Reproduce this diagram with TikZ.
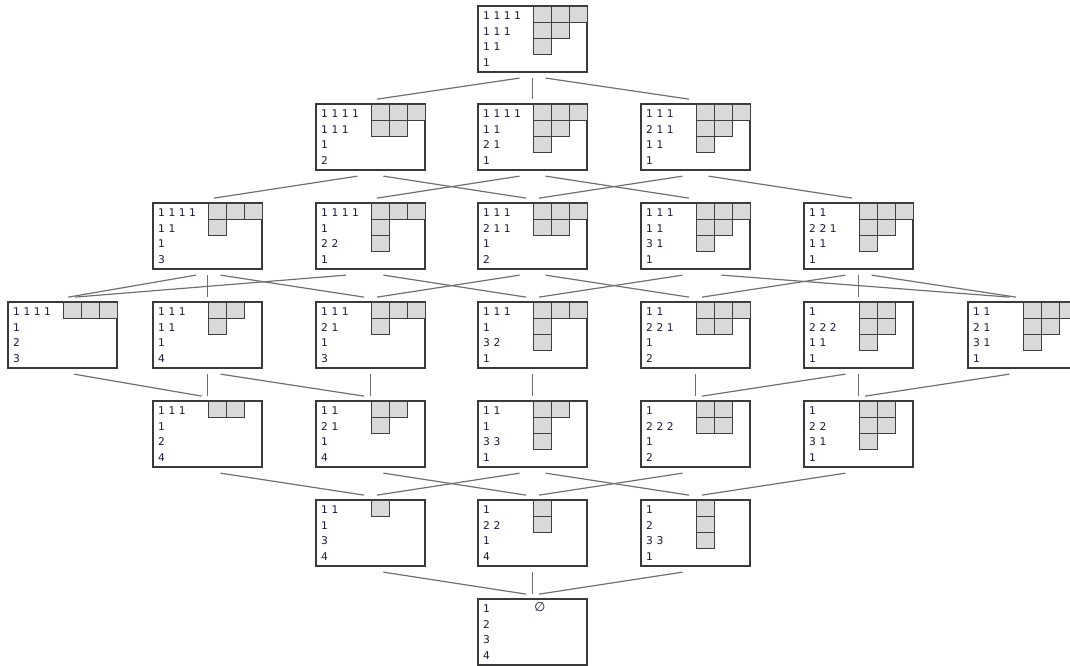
\documentclass[tikz,border=0pt]{standalone}
\usepackage{fontspec}
\setmainfont{DejaVu Sans}
\usetikzlibrary{calc}
\definecolor{inkcol}{HTML}{1A1A38}
\definecolor{boxcol}{HTML}{3A3A3A}
\definecolor{cellcol}{HTML}{D9D9D9}
\definecolor{linkcol}{HTML}{707070}
\begin{document}
\begin{tikzpicture}
			[
				x={(0.75pt, 0pt)},
				y={(0pt, -0.75pt)},
				state/.style={draw=boxcol, line width=0.9pt, fill=white, minimum width=81.75pt, minimum height=49.5pt, text width=74pt, inner xsep=3.5pt, inner ysep=1.5pt, align=left, font=\fontsize{8}{11.6}\selectfont, text=inkcol},
				cell/.style={draw=black!75, fill=cellcol, line width=0.7pt},
				link/.style={draw=linkcol, line width=0.9pt}
			]
			\useasboundingbox (0,0) rectangle (1070,666);
			% States with their diagrams
			\foreach \n/\x/\y/\txt/\rows in {
					s0/532.5/39/{1 1 1 1\\1 1 1\\1 1\\1}/{3,2,1},
					a1/370.5/137/{1 1 1 1\\1 1 1\\1\\2}/{3,2},
					a2/532.5/137/{1 1 1 1\\1 1\\2 1\\1}/{3,2,1},
					a3/695.5/137/{1 1 1\\2 1 1\\1 1\\1}/{3,2,1},
					b1/207.5/236/{1 1 1 1\\1 1\\1\\3}/{3,1},
					b2/370.5/236/{1 1 1 1\\1\\2 2\\1}/{3,1,1},
					b3/532.5/236/{1 1 1\\2 1 1\\1\\2}/{3,2},
					b4/695.5/236/{1 1 1\\1 1\\3 1\\1}/{3,2,1},
					b5/858.5/236/{1 1\\2 2 1\\1 1\\1}/{3,2,1},
					c1/62.5/335/{1 1 1 1\\1\\2\\3}/{3},
					c2/207.5/335/{1 1 1\\1 1\\1\\4}/{2,1},
					c3/370.5/335/{1 1 1\\2 1\\1\\3}/{3,1},
					c4/532.5/335/{1 1 1\\1\\3 2\\1}/{3,1,1},
					c5/695.5/335/{1 1\\2 2 1\\1\\2}/{3,2},
					c6/858.5/335/{1\\2 2 2\\1 1\\1}/{2,2,1},
					c7/1022.5/335/{1 1\\2 1\\3 1\\1}/{3,2,1},
					d1/207.5/434/{1 1 1\\1\\2\\4}/{2},
					d2/370.5/434/{1 1\\2 1\\1\\4}/{2,1},
					d3/532.5/434/{1 1\\1\\3 3\\1}/{2,1,1},
					d4/695.5/434/{1\\2 2 2\\1\\2}/{2,2},
					d5/858.5/434/{1\\2 2\\3 1\\1}/{2,2,1},
					e1/370.5/533/{1 1\\1\\3\\4}/{1},
					e2/532.5/533/{1\\2 2\\1\\4}/{1,1},
					e3/695.5/533/{1\\2\\3 3\\1}/{1,1,1}} {
					\node[state] (\n) at (\x,\y) {\txt};
					\foreach \len [count=\r] in \rows {
							\foreach \c in {1,...,\len}
							\draw[cell] (\x+0.5+18.3*\c-18.3, \y-33+16*\r-16) rectangle ++(18.3,16);
						}
				}
			\node[state] (f1) at (532.5,632) {1\\2\\3\\4};
			\node[font=\fontsize{9.5}{10}\selectfont, text=inkcol, inner sep=0pt] (f1e) at (540,607) {∅};
			% Order relations
			\foreach \a/\b in {s0/a1, s0/a2, s0/a3,
					a1/b1, a1/b3, a2/b2, a2/b4, a3/b3, a3/b5,
					b1/c1, b1/c2, b1/c3, b2/c1, b2/c4, b3/c3, b3/c5, b4/c4, b4/c7, b5/c5, b5/c6, b5/c7,
					c1/d1, c2/d1, c2/d2, c3/d2, c4/d3, c5/d4, c6/d4, c6/d5, c7/d5,
					d1/e1, d2/e2, d3/e1, d3/e3, d4/e2, d5/e3,
					e1/f1, e2/f1, e3/f1} {
					\draw[link] ($($(\a.south)!0.08!(\b.north)$)+(0,3)$) -- ($($(\a.south)!0.96!(\b.north)$)+(0,-3)$);
				}
		\end{tikzpicture}
\end{document}
